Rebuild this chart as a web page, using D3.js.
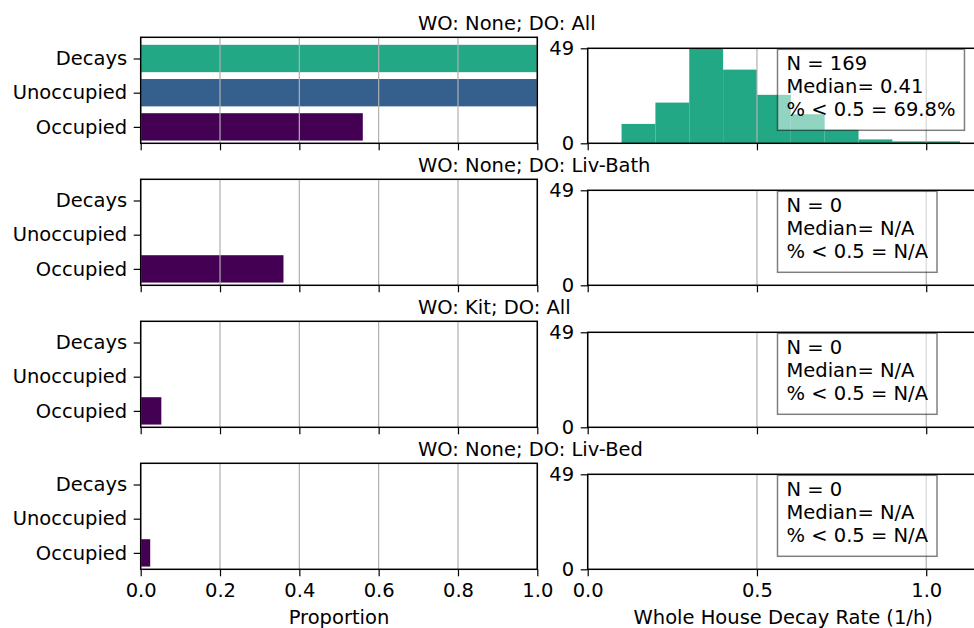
<!DOCTYPE html>
<html>
<head>
<meta charset="utf-8">
<script src="https://cdn.jsdelivr.net/npm/d3@7"></script>
<style>
  body { margin: 0; background: #fff; }
  svg { display: block; font-family: "DejaVu Sans", sans-serif; }
  text { fill: #000; }
</style>
</head>
<body>
<div id="chart"></div>
<script>
// data
var titles = ["WO: None; DO: All", "WO: None; DO: Liv-Bath", "WO: Kit; DO: All", "WO: None; DO: Liv-Bed"];
var categories = ["Occupied", "Unoccupied", "Decays"];
var occupied = [0.56, 0.36, 0.052, 0.024];
var unoccupied = [1.0, 0, 0, 0];
var decays = [1.0, 0, 0, 0];
var binEdges = [0.1, 0.2, 0.3, 0.4, 0.5, 0.6, 0.7, 0.8, 0.9, 1.0, 1.1];
var counts = [
  [10, 21, 49, 38, 25, 15, 7, 2, 1, 1],
  [],
  [],
  []
];
var nText = ["169", "0", "0", "0"];
var medianText = ["0.41", "N/A", "N/A", "N/A"];
var pctText = ["69.8%", "N/A", "N/A", "N/A"];
var propTicks = [0, 0.2, 0.4, 0.6, 0.8, 1.0];
var rateTicks = [0, 0.5, 1.0];
var countTicks = [0, 49];

var colors = { Occupied: "#440154", Unoccupied: "#35608d", Decays: "#22a884" };

var W = 974, H = 628, fs = 19.5;
var svg = d3.select("#chart").append("svg")
    .attr("width", W).attr("height", H);

var rateMax = 1.155;
var xL = d3.scaleLinear().domain([0, 1]).range([140.7, 537.3]);
var xR = d3.scaleLinear().domain([0, rateMax]).range([587.7, 978.7]);

var gridColor = "#b0b0b0";

titles.forEach(function(title, i) {
    var bottom = 143.3 + i * 142;
    var topL = bottom - 106;
    var topR = bottom - 95;
    var last = i === titles.length - 1;

    var y = d3.scaleLinear().domain([-0.48, 2.62]).range([bottom, topL]);
    var g = svg.append("g");

    // bars
    var rows = [
        { cat: "Occupied", v: occupied[i], pos: 0 },
        { cat: "Unoccupied", v: unoccupied[i], pos: 1 },
        { cat: "Decays", v: decays[i], pos: 2 }
    ];
    g.selectAll("rect.bar").data(rows).enter().append("rect")
        .attr("class", "bar")
        .attr("x", xL(0))
        .attr("y", function(d) { return y(d.pos + 0.4); })
        .attr("width", function(d) { return xL(d.v) - xL(0); })
        .attr("height", function(d) { return y(d.pos - 0.4) - y(d.pos + 0.4); })
        .attr("fill", function(d) { return colors[d.cat]; });

    // grid
    g.selectAll("line.grid").data(propTicks).enter().append("line")
        .attr("x1", function(d) { return xL(d); }).attr("x2", function(d) { return xL(d); })
        .attr("y1", topL).attr("y2", bottom)
        .attr("stroke", gridColor).attr("stroke-width", 1.2);

    // x axis (labels only on last row)
    g.append("g").attr("transform", "translate(0," + bottom + ")")
        .call(d3.axisBottom(xL).tickValues(propTicks).tickSize(7).tickPadding(6.5)
            .tickFormat(last ? d3.format(".1f") : ""));
    // y axis
    g.append("g").attr("transform", "translate(" + xL(0) + ",0)")
        .call(d3.axisLeft(y).tickValues([0, 1, 2]).tickSize(7).tickPadding(6.5)
            .tickFormat(function(d) { return categories[d]; }));

    // spines
    g.append("rect").attr("x", xL(0)).attr("y", topL)
        .attr("width", xL(1) - xL(0)).attr("height", bottom - topL)
        .attr("fill", "none").attr("stroke", "#000").attr("stroke-width", 1.5);

    g.append("text").attr("x", 418).attr("y", topL - 7.5)
        .attr("font-size", fs).text(title);

    // histogram panel
    var yR = d3.scaleLinear().domain([0, 49]).range([bottom, topR]);
    var h = svg.append("g");
    var bins = counts[i].map(function(c, k) { return { x0: binEdges[k], x1: binEdges[k + 1], c: c }; });
    h.selectAll("rect.hist").data(bins).enter().append("rect")
        .attr("x", function(d) { return xR(d.x0); })
        .attr("y", function(d) { return yR(d.c); })
        .attr("width", function(d) { return xR(d.x1) - xR(d.x0); })
        .attr("height", function(d) { return bottom - yR(d.c); })
        .attr("fill", colors.Decays);

    h.selectAll("line.grid").data(rateTicks).enter().append("line")
        .attr("x1", function(d) { return xR(d); }).attr("x2", function(d) { return xR(d); })
        .attr("y1", topR).attr("y2", bottom)
        .attr("stroke", gridColor).attr("stroke-width", 1.2);

    h.append("g").attr("transform", "translate(0," + bottom + ")")
        .call(d3.axisBottom(xR).tickValues(rateTicks).tickSize(7).tickPadding(6.5)
            .tickFormat(last ? d3.format(".1f") : ""));
    h.append("g").attr("transform", "translate(" + xR(0) + ",0)")
        .call(d3.axisLeft(yR).tickValues(countTicks).tickSize(7).tickPadding(6.5));

    h.append("rect").attr("x", xR(0)).attr("y", topR)
        .attr("width", xR(rateMax) - xR(0)).attr("height", bottom - topR)
        .attr("fill", "none").attr("stroke", "#000").attr("stroke-width", 1.5);

    // stats box
    var box = h.append("g");
    var bg = box.append("rect");
    var lines = ["N = " + nText[i], "Median= " + medianText[i], "% < 0.5 = " + pctText[i]];
    var tx = 786.5, ty = topR + 22;
    var txt = box.selectAll("text").data(lines).enter().append("text")
        .attr("x", tx).attr("y", function(d, k) { return ty + k * 22.8; })
        .attr("font-size", fs).text(function(d) { return d; });
    var maxW = 0;
    txt.each(function() { maxW = Math.max(maxW, this.getComputedTextLength()); });
    bg.attr("x", tx - 9).attr("y", topR + 1)
        .attr("width", maxW + 18).attr("height", 81)
        .attr("fill", "#fff").attr("fill-opacity", 0.5)
        .attr("stroke", "#000").attr("stroke-opacity", 0.5).attr("stroke-width", 1.5);
});

// axis styling
svg.selectAll(".domain").remove();
svg.selectAll(".tick line").attr("stroke", "#000").attr("stroke-width", 1.2);
svg.selectAll(".tick text").attr("font-size", fs).attr("font-family", "DejaVu Sans").attr("fill", "#000");

// axis labels
svg.append("text").attr("x", (xL(0) + xL(1)) / 2).attr("y", 624)
    .attr("text-anchor", "middle").attr("font-size", fs).text("Proportion");
svg.append("text").attr("x", (xR(0) + xR(rateMax)) / 2).attr("y", 624)
    .attr("text-anchor", "middle").attr("font-size", fs).text("Whole House Decay Rate (1/h)");
</script>
</body>
</html>
